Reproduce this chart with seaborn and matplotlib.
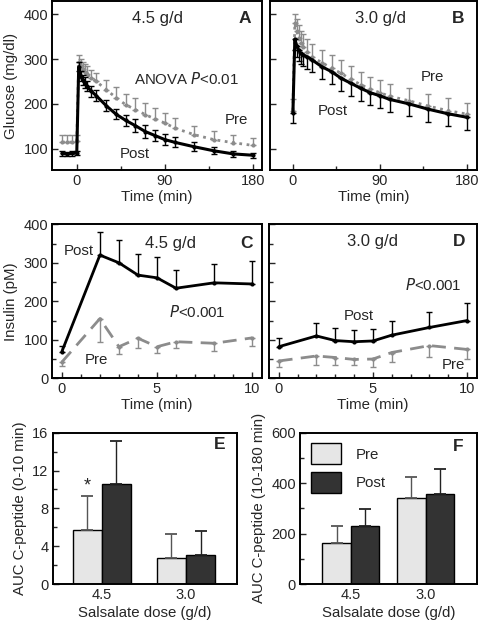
import numpy as np
import pandas as pd
import seaborn as sns
import matplotlib
matplotlib.use('Agg')
import matplotlib.pyplot as plt
from matplotlib.ticker import MultipleLocator

# ---- glucose (panels A, B) ----
t_A = [-15, -10, -5, 0, 2, 4, 6, 8, 10, 15, 20, 30, 40, 50, 60, 70, 80, 90, 100, 120, 140, 160, 180]
pre_A = [114, 115, 114, 116, 294, 285, 278, 272, 266, 258, 250, 232, 214, 198, 187, 176, 166, 157, 146, 131, 120, 113, 107]
pre_A_err = [16, 16, 17, 15, 16, 15, 16, 16, 18, 17, 18, 22, 24, 25, 25, 25, 24, 23, 22, 20, 20, 18, 16]
post_A = [89, 88, 89, 90, 283, 262, 253, 247, 240, 228, 218, 196, 177, 163, 151, 138, 129, 120, 114, 104, 95, 88, 85]
post_A_err = [5, 5, 5, 5, 10, 12, 12, 12, 12, 12, 12, 12, 12, 13, 14, 14, 12, 12, 11, 10, 8, 7, 6]

t_B = [0, 2, 4, 6, 8, 10, 15, 20, 30, 40, 50, 60, 70, 80, 90, 100, 120, 140, 160, 180]
pre_B = [185, 380, 362, 348, 336, 328, 316, 305, 292, 280, 268, 255, 243, 233, 225, 217, 207, 195, 185, 177]
pre_B_err = [25, 22, 28, 28, 28, 28, 28, 28, 28, 30, 30, 30, 28, 28, 28, 28, 28, 27, 27, 25]
post_B = [180, 345, 330, 320, 313, 310, 305, 298, 283, 272, 257, 246, 235, 225, 218, 210, 200, 188, 178, 170]
post_B_err = [22, 25, 25, 25, 25, 25, 26, 27, 28, 28, 28, 28, 28, 28, 28, 28, 28, 28, 28, 28]

# ---- insulin (panels C, D) ----
t_ins = [0, 2, 3, 4, 5, 6, 8, 10]
post_C = [69, 320, 300, 268, 261, 234, 248, 245]
post_C_err = [15, 60, 60, 55, 55, 47, 50, 60]
pre_C = [42, 155, 82, 104, 82, 95, 91, 105]
pre_C_err = [10, 60, 20, 25, 15, 15, 20, 20]
post_D = [82, 110, 98, 95, 97, 112, 132, 150]
post_D_err = [22, 33, 33, 30, 30, 38, 41, 46]
pre_D = [45, 58, 54, 49, 50, 67, 85, 75]
pre_D_err = [15, 23, 20, 15, 20, 25, 29, 25]

# ---- C-peptide AUC (panels E, F) ----
doses = ['4.5', '3.0']
pre_E = [5.7, 2.7]
pre_E_err = [3.6, 2.6]
post_E = [10.6, 3.1]
post_E_err = [4.5, 2.5]
pre_F = [164, 343]
pre_F_err = [66, 82]
post_F = [230, 355]
post_F_err = [67, 100]

sns.set_style('ticks')
plt.rcParams['font.family'] = ['Liberation Sans', 'DejaVu Sans']
plt.rcParams['font.size'] = 10.5

GRAY = '#8c8c8c'
W, H = 480, 627
TXT = 10.8     # annotation text
LAB = 10.8     # axis labels
DOSE = 12      # "4.5 g/d"
LET = 12.5     # panel letters


def px_axes(fig, l, r, t, b):
    return fig.add_axes([l / W, 1 - b / H, (r - l) / W, (b - t) / H])


def style(ax):
    for s in ax.spines.values():
        s.set_linewidth(1.4)
        s.set_color('black')
    ax.tick_params(direction='in', length=4, width=1, labelsize=10.5, pad=3)
    ax.tick_params(which='minor', direction='in', length=3, width=1)


def curve(ax, t, y, err, color, ls, up, lw, ms):
    sns.lineplot(x=t, y=y, ax=ax, color=color, linestyle=ls, linewidth=lw,
                 marker='o', markersize=ms, markeredgewidth=0, sort=False)
    e = np.array(err)
    z = np.zeros_like(e)
    yerr = [z, e] if up == 1 else ([e, z] if up == -1 else [e, e])
    ax.errorbar(t, y, yerr=yerr, fmt='none', ecolor=color, elinewidth=1, capsize=2.2, capthick=1)


fig = plt.figure(figsize=(4.8, 6.27), dpi=100)

# Panel A
axA = px_axes(fig, 52.3, 261.7, 1, 170)
curve(axA, t_A, pre_A, pre_A_err, GRAY, ':', 1, 2.0, 3)
curve(axA, t_A, post_A, post_A_err, 'black', '-', 0, 2.2, 3)
axA.set_xlim(-25, 189)
axA.set_ylim(52, 430)
axA.set_xticks([0, 90, 180])
axA.xaxis.set_minor_locator(MultipleLocator(45))
axA.set_yticks([100, 200, 300, 400])
axA.set_xlabel('Time (min)', fontsize=LAB, labelpad=1)
axA.set_ylabel('Glucose (mg/dl)', fontsize=LAB, labelpad=4)
axA.text(83, 391, '4.5 g/d', ha='center', va='center', fontsize=DOSE)
axA.text(172, 391, 'A', ha='center', va='center', fontsize=LET, fontweight='bold')
axA.text(112, 256, 'ANOVA $\\it{P}$<0.01', ha='center', va='center', fontsize=TXT)
axA.text(163, 164, 'Pre', ha='center', va='center', fontsize=TXT)
axA.text(59, 87, 'Post', ha='center', va='center', fontsize=TXT)
style(axA)

# Panel B
axB = px_axes(fig, 270, 476.5, 1, 170)
curve(axB, t_B, pre_B, pre_B_err, GRAY, ':', 1, 2.0, 3)
curve(axB, t_B, post_B, post_B_err, 'black', '-', -1, 2.2, 3)
axB.set_xlim(-23.7, 190)
axB.set_ylim(52, 430)
axB.set_xticks([0, 90, 180])
axB.xaxis.set_minor_locator(MultipleLocator(45))
axB.set_yticks([100, 200, 300, 400])
axB.set_yticklabels([])
axB.set_xlabel('Time (min)', fontsize=LAB, labelpad=1)
axB.text(91, 391, '3.0 g/d', ha='center', va='center', fontsize=DOSE)
axB.text(171, 391, 'B', ha='center', va='center', fontsize=LET, fontweight='bold')
axB.text(144, 259, 'Pre', ha='center', va='center', fontsize=TXT)
axB.text(41, 183, 'Post', ha='center', va='center', fontsize=TXT)
style(axB)

# Panel C
axC = px_axes(fig, 52.3, 261.7, 224.3, 378.3)
curve(axC, t_ins, post_C, post_C_err, 'black', '-', 1, 2.0, 3)
curve(axC, t_ins, pre_C, pre_C_err, GRAY, (0, (5, 3)), -1, 2.0, 3)
axC.set_xlim(-0.5, 10.5)
axC.set_ylim(0, 400)
axC.set_xticks([0, 5, 10])
axC.xaxis.set_minor_locator(MultipleLocator(1))
axC.set_yticks([0, 100, 200, 300, 400])
axC.yaxis.set_minor_locator(MultipleLocator(50))
axC.set_xlabel('Time (min)', fontsize=LAB, labelpad=1)
axC.set_ylabel('Insulin (pM)', fontsize=LAB, labelpad=4)
axC.text(5.7, 351, '4.5 g/d', ha='center', va='center', fontsize=DOSE)
axC.text(9.7, 351, 'C', ha='center', va='center', fontsize=LET, fontweight='bold')
axC.text(0.9, 331, 'Post', ha='center', va='center', fontsize=TXT)
axC.text(7.1, 173, '$\\it{P}$<0.001', ha='center', va='center', fontsize=TXT)
axC.text(1.84, 48, 'Pre', ha='center', va='center', fontsize=TXT)
style(axC)

# Panel D
axD = px_axes(fig, 269.3, 476.5, 224.3, 378.3)
curve(axD, t_ins, post_D, post_D_err, 'black', '-', 1, 2.0, 3)
curve(axD, t_ins, pre_D, pre_D_err, GRAY, (0, (5, 3)), -1, 2.0, 3)
axD.set_xlim(-0.5, 10.5)
axD.set_ylim(0, 400)
axD.set_xticks([0, 5, 10])
axD.xaxis.set_minor_locator(MultipleLocator(1))
axD.set_yticks([0, 100, 200, 300, 400])
axD.yaxis.set_minor_locator(MultipleLocator(50))
axD.set_yticklabels([])
axD.set_xlabel('Time (min)', fontsize=LAB, labelpad=1)
axD.text(5.0, 355, '3.0 g/d', ha='center', va='center', fontsize=DOSE)
axD.text(9.6, 355, 'D', ha='center', va='center', fontsize=LET, fontweight='bold')
axD.text(8.2, 242, '$\\it{P}$<0.001', ha='center', va='center', fontsize=TXT)
axD.text(4.25, 162, 'Post', ha='center', va='center', fontsize=TXT)
axD.text(9.3, 35, 'Pre', ha='center', va='center', fontsize=TXT)
style(axD)


def bars(ax, pre, pre_err, post, post_err, width, legend):
    df = pd.DataFrame({'dose': doses * 2,
                       'phase': ['Pre'] * 2 + ['Post'] * 2,
                       'value': pre + post})
    sns.barplot(data=df, x='dose', y='value', hue='phase', order=doses,
                hue_order=['Pre', 'Post'],
                palette={'Pre': '#e6e6e6', 'Post': '#333333'},
                edgecolor='black', linewidth=1, width=width,
                errorbar=None, legend=False, ax=ax)
    for cont, err, col in zip(ax.containers, [pre_err, post_err], ['#555555', '#222222']):
        xs = [p.get_x() + p.get_width() / 2 for p in cont]
        ys = [p.get_height() for p in cont]
        ax.errorbar(xs, ys, yerr=[np.zeros(len(err)), err], fmt='none',
                    ecolor=col, elinewidth=1, capsize=4, capthick=1.3)
    if legend:
        ax.legend(ax.containers[:2], ['Pre', 'Post'], loc='upper left',
                  frameon=False, fontsize=TXT, handlelength=2.0, handleheight=1.8,
                  labelspacing=0.5, handletextpad=1.0, borderaxespad=0.4,
                  borderpad=0.3)
    ax.set_xlabel('Salsalate dose (g/d)', fontsize=LAB, labelpad=3)
    ax.tick_params(axis='x', length=0)


# Panel E
axE = px_axes(fig, 52.7, 236.7, 432.7, 584)
bars(axE, pre_E, pre_E_err, post_E, post_E_err, 0.69, False)
axE.set_xlim(-0.58, 1.6)
axE.set_ylim(0, 16)
axE.set_yticks([0, 4, 8, 12, 16])
axE.yaxis.set_minor_locator(MultipleLocator(2))
axE.set_ylabel('AUC C-peptide (0-10 min)', fontsize=LAB, labelpad=4)
axE.text(1.4, 14.7, 'E', ha='center', va='center', fontsize=LET, fontweight='bold')
axE.text(-0.17, 10.4, '*', ha='center', va='center', fontsize=13)
style(axE)
axE.tick_params(axis='x', length=0)

# Panel F
axF = px_axes(fig, 300, 476.5, 432.7, 584)
bars(axF, pre_F, pre_F_err, post_F, post_F_err, 0.76, True)
axF.set_xlim(-0.68, 1.68)
axF.set_ylim(0, 600)
axF.set_yticks([0, 200, 400, 600])
axF.yaxis.set_minor_locator(MultipleLocator(100))
axF.set_ylabel('AUC C-peptide (10-180 min)', fontsize=LAB, labelpad=4)
axF.text(1.44, 544, 'F', ha='center', va='center', fontsize=LET, fontweight='bold')
style(axF)
axF.tick_params(axis='x', length=0)

fig.savefig('out.png', dpi=100)
